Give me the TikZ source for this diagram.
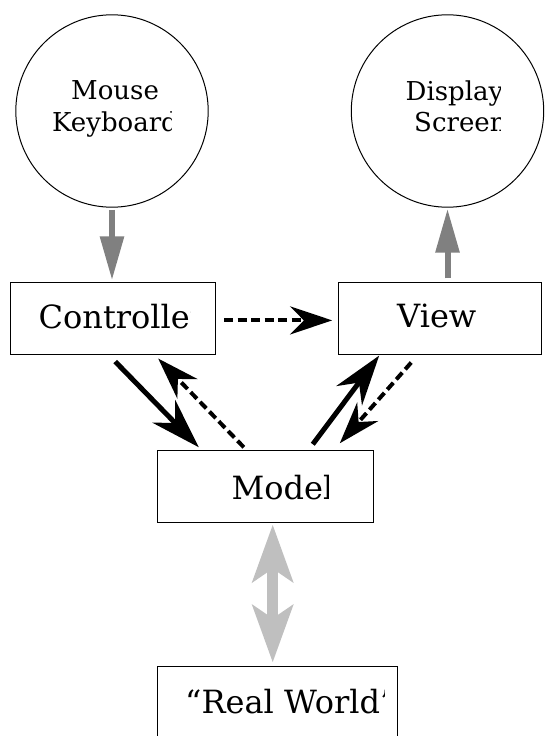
\documentclass[tikz,border=0pt]{standalone}
\usepackage{fontspec}
\setmainfont{DejaVu Serif}
\usetikzlibrary{calc}
\usetikzlibrary{arrows.meta}

\tikzset{
  box/.style={draw, line width=1pt, minimum height=71.3pt, inner sep=0pt},
  dev/.style={draw, circle, line width=1pt, minimum size=192.4pt, inner sep=0pt},
  bigtext/.style={anchor=base west, inner sep=0pt, font=\fontsize{32}{32}\selectfont},
  smalltext/.style={anchor=base west, inner sep=0pt, font=\fontsize{26}{26}\selectfont},
  call/.style={line width=5pt, -{Stealth[length=50pt,width=32pt]}},
  notify/.style={line width=4pt, dash pattern=on 9pt off 4.5pt, -{Stealth[length=42pt,width=28pt]}},
  io/.style={gray, line width=6pt, -{Triangle[length=44pt,width=23pt]}},
  world io/.style={lightgray, line width=11pt,
    {Stealth[length=57pt,width=40pt,inset=13pt]}-{Stealth[length=57pt,width=40pt,inset=13pt]}},
}

\begin{document}
\begin{tikzpicture}[x=1pt,y=-1pt]
\useasboundingbox (0,0) rectangle (544,736);

% devices
\node[dev] (mouse) at (112,111) {};
\node[dev] (display) at (447.5,111) {};

% boxes
\node[box, minimum width=205pt] (ctrl) at (113.2,318.4) {};
\node[box, minimum width=202.6pt] (view) at (440,318.4) {};
\node[box, minimum width=216pt] (model) at (265.3,486.4) {};
\node[box, minimum width=240pt] (world) at (277.3,701.7) {};

% labels, cut off at the right like the original text frames
\begin{scope}
  \clip (mouse.north west) rectangle (171,207);
  \node[smalltext] (mousetxt) at (71,99.3) {Mouse};
  \node[smalltext] (keytxt) at (52,131) {Keyboard};
\end{scope}
\begin{scope}
  \clip (display.north west) rectangle (500,207);
  \node[smalltext] (disptxt) at (405.5,100) {Display};
  \node[smalltext] (scrtxt) at (414,131.7) {Screen};
\end{scope}
\begin{scope}
  \clip (ctrl.north west) rectangle (190.5,354);
  \node[bigtext] (ctrltxt) at (38.5,328.3) {Controller};
\end{scope}
\node[bigtext] (viewtxt) at (397,327.8) {View};
\begin{scope}
  \clip (model.north west) rectangle (328.3,522);
  \node[bigtext] (modeltxt) at (231.5,499.3) {Model};
\end{scope}
\begin{scope}
  \clip (world.north west) rectangle (384,736);
  \node[bigtext] (worldtxt) at (185,713.3) {“Real World”};
\end{scope}

% input and output
\draw[io] ([yshift=-2pt]mouse.south) -- ($(mouse.south |- ctrl.north)+(0,-2)$);
\draw[io] ($(display.south |- view.north)+(0,-4)$) -- ([yshift=-1pt]display.south);

% calls and notifications
\draw[notify] ($(ctrl.east)+(8,2)$) -- ($(view.west)+(-6,2)$);
\draw[call] ($(ctrl.south)+(2,7)$) -- ($(model.north west)+(42,-3)$);
\draw[notify] ($(model.north west)+(87,-3)$) -- ($(ctrl.south)+(45,4)$);
\draw[call] ($(model.north west)+(156,-6)$) -- ($(view.south west)+(41,1)$);
\draw[notify] ($(view.south west)+(73,8)$) -- ($(model.north west)+(183,-7)$);

\draw[world io] ($(model.south)+(7.4,2)$) -- ($(world.north)+(-4.6,-3)$);
\end{tikzpicture}
\end{document}
